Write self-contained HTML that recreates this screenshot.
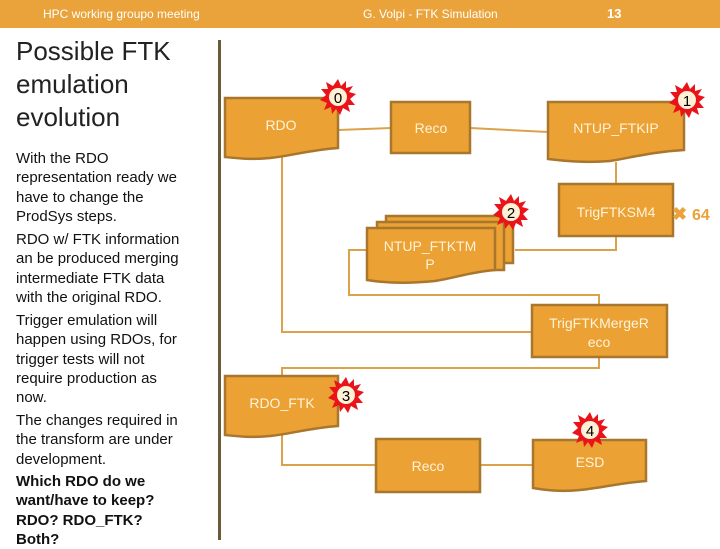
<!DOCTYPE html>
<html><head><meta charset="utf-8"><style>
body{margin:0;width:720px;height:540px;overflow:hidden;background:#fff;position:relative;font-family:"Liberation Sans",sans-serif}
.t{position:absolute;left:16px;font-size:15px;color:#111;white-space:nowrap;line-height:19.3px}
.b{font-weight:bold}
</style></head><body>
<div style="position:absolute;left:0;top:0;width:720px;height:28px;background:#E9A33A"></div>
<div style="position:absolute;left:43px;top:7px;font-size:12px;color:#fff">HPC working groupo meeting</div>
<div style="position:absolute;left:363px;top:7px;font-size:12px;color:#fff">G. Volpi - FTK Simulation</div>
<div style="position:absolute;left:607px;top:6px;font-size:13px;color:#fff;font-weight:bold">13</div>
<div style="position:absolute;left:16px;top:35px;font-size:26px;line-height:33px;color:#222">Possible FTK<br>emulation<br>evolution</div>
<div class="t" style="top:149px">With the RDO<br>representation ready we<br>have to change the<br>ProdSys steps.</div>
<div class="t" style="top:230px">RDO w/ FTK information<br>an be produced merging<br>intermediate FTK data<br>with the original RDO.</div>
<div class="t" style="top:311px">Trigger emulation will<br>happen using RDOs, for<br>trigger tests will not<br>require production as<br>now.</div>
<div class="t" style="top:411px">The changes required in<br>the transform are under<br>development.</div>
<div class="t b" style="top:472px">Which RDO do we<br>want/have to keep?<br>RDO? RDO_FTK?<br>Both?</div>
<div style="position:absolute;left:218px;top:40px;width:3px;height:500px;background:#6b5a3a"></div>
<svg width="720" height="540" style="position:absolute;left:0;top:0" font-family="Liberation Sans, sans-serif">
<g fill="none" stroke="#DBA24C" stroke-width="2">
<path d="M338 130 L391 128"/><path d="M470 128 L548 132"/><path d="M616 162 V184"/>
<path d="M616 236 V250 H515"/><path d="M367 250 H349 V295 H599 V305"/>
<path d="M282 157 V332 H532"/><path d="M599 357 V368 H282 V376"/>
<path d="M282 435 V465 H376"/><path d="M480 465 H533"/>
</g>
<g fill="#EBA133" stroke="#A8762C" stroke-width="2.5">
<path d="M225 98 H338 V148 C310 150 290 156 270 158 C250 160 235 158 225 157 Z"/>
<rect x="391" y="102" width="79" height="51"/>
<path d="M548 102 H684 V150 C650 152 630 158 610 161 C585 163 565 161 548 159 Z"/>
<rect x="559" y="184" width="114" height="52"/>
<rect x="386" y="216" width="127" height="47"/>
<rect x="377" y="222" width="127" height="48"/>
<path d="M367 228 H495 V270 C470 272 455 278 435 281 C405 284 385 283 367 280 Z"/>
<rect x="532" y="305" width="135" height="52"/>
<path d="M225 376 H338 V426 C310 428 290 434 270 436 C250 438 235 436 225 435 Z"/>
<rect x="376" y="439" width="104" height="53"/>
<path d="M533 440 H646 V481 C620 483 600 488 580 490 C560 492 545 490 533 488 Z"/>
</g>
<g fill="#FFF3DA" font-size="14" text-anchor="middle">
<text x="281" y="130">RDO</text><text x="431" y="133">Reco</text><text x="616" y="133">NTUP_FTKIP</text>
<text x="616" y="217">TrigFTKSM4</text><text x="430" y="251">NTUP_FTKTM</text><text x="430" y="269">P</text>
<text x="599" y="328">TrigFTKMergeR</text><text x="599" y="347">eco</text>
<text x="282" y="408">RDO_FTK</text><text x="428" y="471">Reco</text><text x="590" y="467">ESD</text>
</g>
<text x="672" y="220" fill="#E9A33A" font-size="18" font-weight="bold">✖</text>
<text x="692" y="220" fill="#E9A33A" font-size="16" font-weight="bold">64</text>
<defs><polygon id="st" fill="#E8141A" points="0,-18 3,-11 8,-16 8,-9 15,-11 11,-5 18,-3 12,2 17,8 10,8 12,15 5,11 2,18 -2,12 -6,17 -7,10 -14,13 -11,6 -18,3 -12,-2 -17,-8 -10,-8 -12,-15 -5,-11"/></defs>
<g font-size="15" text-anchor="middle" fill="#000">
<use href="#st" x="338" y="97"/><circle cx="338" cy="97" r="9" fill="#FFF1D6"/><text x="338" y="103">0</text>
<use href="#st" x="687" y="100"/><circle cx="687" cy="100" r="9" fill="#FFF1D6"/><text x="687" y="106">1</text>
<use href="#st" x="511" y="212"/><circle cx="511" cy="212" r="9" fill="#FFF1D6"/><text x="511" y="218">2</text>
<use href="#st" x="346" y="395"/><circle cx="346" cy="395" r="9" fill="#FFF1D6"/><text x="346" y="401">3</text>
<use href="#st" x="590" y="430"/><circle cx="590" cy="430" r="9" fill="#FFF1D6"/><text x="590" y="436">4</text>
</g>
</svg>
</body></html>
